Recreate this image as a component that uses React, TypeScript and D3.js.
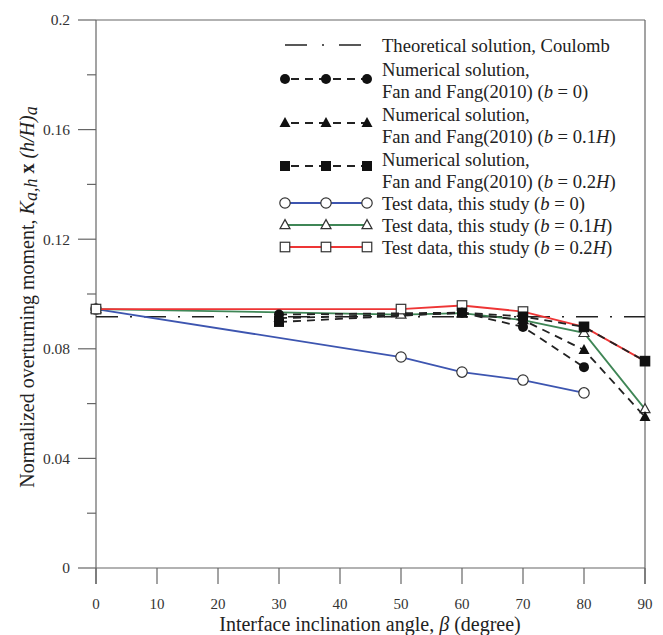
import React from "react";
import * as d3 from "d3";

const angles = [0, 10, 20, 30, 40, 50, 60, 70, 80, 90];
const yTicksMajor = [0, 0.04, 0.08, 0.12, 0.16, 0.2];
const yTickLabels = ["0", "0.04", "0.08", "0.12", "0.16", "0.2"];
const yTicksMinor = [0.02, 0.06, 0.1, 0.14, 0.18];

const coulombX = [0, 90];
const coulombY = [0.0917, 0.0917];

const numB0X = [30, 60, 70, 80];
const numB0Y = [0.0925, 0.0932, 0.088, 0.0733];
const numB01X = [30, 60, 70, 80, 90];
const numB01Y = [0.0912, 0.093, 0.0905, 0.0796, 0.0551];
const numB02X = [30, 60, 70, 80, 90];
const numB02Y = [0.0898, 0.0932, 0.0918, 0.088, 0.0755];

const testB0X = [0, 50, 60, 70, 80];
const testB0Y = [0.0945, 0.077, 0.0715, 0.0686, 0.0639];
const testB01X = [0, 50, 60, 70, 80, 90];
const testB01Y = [0.0945, 0.0925, 0.093, 0.0905, 0.0858, 0.058];
const testB02X = [0, 50, 60, 70, 80, 90];
const testB02Y = [0.0945, 0.0945, 0.0958, 0.0936, 0.088, 0.0755];

const BLUE = "#3d55b0";
const GREEN = "#3f8656";
const RED = "#ee3535";
const AX = "#666";
const FONT = "'Liberation Serif', 'Times New Roman', serif";

type Shape = "circle" | "triangle" | "square";

function Marker({ x, y, shape, filled, stroke }: { x: number; y: number; shape: Shape; filled: boolean; stroke: string }) {
  const fill = filled ? "#111" : "white";
  const sw = filled ? 0 : 1.2;
  if (shape === "circle") {
    const r = filled ? 5 : 5.2;
    return <circle cx={x} cy={y} r={r} fill={fill} stroke={stroke} strokeWidth={sw} />;
  }
  if (shape === "square") {
    const s = filled ? 10 : 9.5;
    return <rect x={x - s / 2} y={y - s / 2} width={s} height={s} fill={fill} stroke={stroke} strokeWidth={sw} />;
  }
  const h = filled ? 10 : 9;
  const w = filled ? 11 : 10;
  const pts = `${x},${y - h * 0.6} ${x - w / 2},${y + h * 0.4} ${x + w / 2},${y + h * 0.4}`;
  return <polygon points={pts} fill={fill} stroke={stroke} strokeWidth={sw} />;
}

export default function App() {
  const W = 663, H = 635;
  const x = d3.scaleLinear().domain([0, 90]).range([96, 645]);
  const y = d3.scaleLinear().domain([0, 0.2]).range([568, 20]);
  const line = (xs: number[], ys: number[]) =>
    d3.line<number>().x((_, i) => x(xs[i])).y((_, i) => y(ys[i]))(xs.map((v) => v)) || "";

  const numSeries = [
    { xs: numB0X, ys: numB0Y, shape: "circle" as Shape },
    { xs: numB01X, ys: numB01Y, shape: "triangle" as Shape },
    { xs: numB02X, ys: numB02Y, shape: "square" as Shape },
  ];
  const testSeries = [
    { xs: testB0X, ys: testB0Y, shape: "circle" as Shape, color: BLUE },
    { xs: testB01X, ys: testB01Y, shape: "triangle" as Shape, color: GREEN },
    { xs: testB02X, ys: testB02Y, shape: "square" as Shape, color: RED },
  ];

  const lx0 = 285, lx1 = 326, lx2 = 367, tx = 382;
  const fs = 18.6;

  return (
    <svg width={W} height={H} style={{ position: "absolute", left: 0, top: 0, background: "white" }} fontFamily={FONT}>
      <line x1={x(0)} x2={x(90)} y1={y(0.2)} y2={y(0.2)} stroke={AX} strokeWidth={1.2} />
      <line x1={x(90)} x2={x(90)} y1={y(0.2)} y2={y(0) + 16} stroke={AX} strokeWidth={1.2} />
      <line x1={x(0)} x2={x(0)} y1={y(0.2)} y2={y(0) + 16} stroke={AX} strokeWidth={1.2} />
      <line x1={x(0)} x2={x(90)} y1={y(0)} y2={y(0)} stroke={AX} strokeWidth={1.2} />
      {yTicksMajor.map((t, i) => (
        <g key={"ym" + i}>
          <line x1={x(0) - 18} x2={x(0)} y1={y(t)} y2={y(t)} stroke={AX} strokeWidth={1.2} />
          <text x={70} y={y(t)} dy="0.35em" textAnchor="end" fontSize={15.5} fill="#333">{yTickLabels[i]}</text>
        </g>
      ))}
      {yTicksMinor.map((t, i) => (
        <line key={"yn" + i} x1={x(0) - 9} x2={x(0)} y1={y(t)} y2={y(t)} stroke={AX} strokeWidth={1.2} />
      ))}
      {angles.map((a) => (
        <g key={"xt" + a}>
          <line x1={x(a)} x2={x(a)} y1={y(0)} y2={y(0) + 16} stroke={AX} strokeWidth={1.2} />
          <text x={x(a)} y={604} dy="0.35em" textAnchor="middle" fontSize={15} fill="#333">{a}</text>
        </g>
      ))}
      <text x={370} y={624} dy="0.35em" textAnchor="middle" fontSize={20} fill="#222">
        Interface inclination angle, <tspan fontStyle="italic">β</tspan> (degree)
      </text>
      <text transform={`translate(27,${297}) rotate(-90)`} textAnchor="middle" fontSize={20} fill="#222" dy="0.35em">
        Normalized overturning moment,{" "}
        <tspan fontStyle="italic">K</tspan>
        <tspan fontStyle="italic" fontSize={18} dy="3">a,h</tspan>
        <tspan dy="-3" fontWeight="bold"> x </tspan>
        <tspan fontStyle="italic">(h/H)</tspan>
        <tspan fontStyle="italic" fontSize={18} dy="3">a</tspan>
      </text>

      <path d={line(coulombX, coulombY)} fill="none" stroke="#222" strokeWidth={1.3} strokeDasharray="22,12,2,12" />

      {testSeries.map((s, k) => (
        <g key={"t" + k}>
          <path d={line(s.xs, s.ys)} fill="none" stroke={s.color} strokeWidth={1.8} />
          {s.xs.map((v, i) => (
            <Marker key={i} x={x(v)} y={y(s.ys[i])} shape={s.shape} filled={false} stroke="#333" />
          ))}
        </g>
      ))}

      {numSeries.map((s, k) => (
        <g key={"n" + k}>
          <path d={line(s.xs, s.ys)} fill="none" stroke="#222" strokeWidth={1.8} strokeDasharray="8,6" />
          {s.xs.map((v, i) => (
            <Marker key={i} x={x(v)} y={y(s.ys[i])} shape={s.shape} filled={true} stroke="#111" />
          ))}
        </g>
      ))}

      <g>
        <line x1={lx0} x2={lx2} y1={45} y2={45} stroke="#222" strokeWidth={1.3} strokeDasharray="22,15,2,15" />
        <text x={tx} y={45} dy="0.35em" fontSize={fs} fill="#222">Theoretical solution, Coulomb</text>

        {[
          { my: 79, t1: 69, t2: 91, shape: "circle" as Shape, lab: "0" },
          { my: 123, t1: 114, t2: 136, shape: "triangle" as Shape, lab: "0.1H" },
          { my: 166, t1: 159, t2: 181, shape: "square" as Shape, lab: "0.2H" },
        ].map((r, i) => (
          <g key={"ln" + i}>
            <line x1={lx0} x2={lx2} y1={r.my} y2={r.my} stroke="#222" strokeWidth={1.8} strokeDasharray="8,6" strokeDashoffset={-6} />
            {[lx0, lx1, lx2].map((mx, j) => (
              <Marker key={j} x={mx} y={r.my} shape={r.shape} filled={true} stroke="#111" />
            ))}
            <text x={tx} y={r.t1} dy="0.35em" fontSize={fs} fill="#222">Numerical solution,</text>
            <text x={tx} y={r.t2} dy="0.35em" fontSize={fs} fill="#222">
              Fan and Fang(2010) (<tspan fontStyle="italic">b</tspan> = {r.lab === "0" ? "0" : <>{r.lab.replace("H", "")}<tspan fontStyle="italic">H</tspan></>})
            </text>
          </g>
        ))}

        {[
          { my: 203, color: BLUE, shape: "circle" as Shape, lab: "0" },
          { my: 225, color: GREEN, shape: "triangle" as Shape, lab: "0.1H" },
          { my: 247, color: RED, shape: "square" as Shape, lab: "0.2H" },
        ].map((r, i) => (
          <g key={"lt" + i}>
            <line x1={lx0} x2={lx2} y1={r.my} y2={r.my} stroke={r.color} strokeWidth={1.8} />
            {[lx0, lx1, lx2].map((mx, j) => (
              <Marker key={j} x={mx} y={r.my} shape={r.shape} filled={false} stroke="#333" />
            ))}
            <text x={tx} y={r.my} dy="0.35em" fontSize={fs} fill="#222">
              Test data, this study (<tspan fontStyle="italic">b</tspan> = {r.lab === "0" ? "0" : <>{r.lab.replace("H", "")}<tspan fontStyle="italic">H</tspan></>})
            </text>
          </g>
        ))}
      </g>
    </svg>
  );
}
